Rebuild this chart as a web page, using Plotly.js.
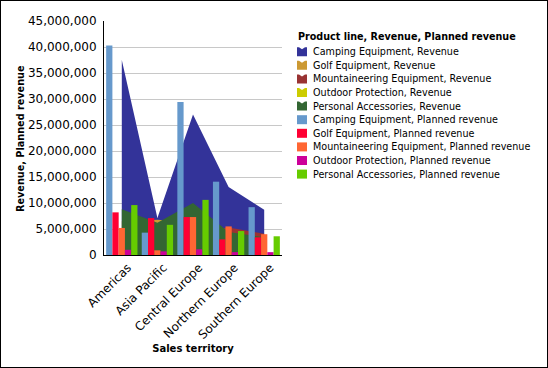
<!DOCTYPE html>
<html>
<head>
<meta charset="utf-8">
<script src="https://cdn.plot.ly/plotly-3.0.1.min.js"></script>
<style>
  html, body { margin: 0; padding: 0; background: #fff; }
  #wrap { position: relative; width: 548px; height: 368px; }
  #chart { position: absolute; left: 0; top: 0; width: 548px; height: 368px; }
  #frame { position: absolute; left: 0; top: 0; width: 546px; height: 366px; border: 1px solid #000; pointer-events: none; }
</style>
</head>
<body>
<div id="wrap"><div id="chart"></div><div id="frame"></div></div>
<script>
// ---- data ----
const territories = ['Americas', 'Asia Pacific', 'Central Europe', 'Northern Europe', 'Southern Europe'];
const productLines = ['Camping Equipment', 'Golf Equipment', 'Mountaineering Equipment', 'Outdoor Protection', 'Personal Accessories'];

// Revenue (drawn as overlapping areas)
const revCamping        = [37500000, 7100000, 27000000, 13100000, 8700000];
const revGolf           = [6500000, 6800000, 6300000, 3000000, 3000000];
const revMountaineering = [3500000, 1500000, 4500000, 5300000, 4100000];
const revOutdoor        = [600000, 400000, 700000, 300000, 300000];
const revPersonal       = [8800000, 6200000, 10000000, 4400000, 3400000];

// Planned revenue (grouped bars)
const planCamping        = [40300000, 4300000, 29400000, 14100000, 9200000];
const planGolf           = [8200000, 7100000, 7300000, 3000000, 3400000];
const planMountaineering = [5200000, 900000, 7300000, 5500000, 4000000];
const planOutdoor        = [1000000, 700000, 1100000, 550000, 550000];
const planPersonal       = [9600000, 5800000, 10600000, 4600000, 3600000];

const yTickVals = [0, 5000000, 10000000, 15000000, 20000000, 25000000, 30000000, 35000000, 40000000, 45000000];

const revColors  = ['#333399', '#CC9933', '#993333', '#CCCC00', '#336633'];
const planColors = ['#6699CC', '#FF0033', '#FF6633', '#CC0099', '#66CC00'];

const revSeries  = [revCamping, revGolf, revMountaineering, revOutdoor, revPersonal];
const planSeries = [planCamping, planGolf, planMountaineering, planOutdoor, planPersonal];

const FONT = 'DejaVu Sans, Verdana, sans-serif';

const traces = [];
revSeries.forEach((vals, i) => {
  traces.push({
    type: 'scatter', mode: 'lines', x: territories, y: vals,
    name: productLines[i] + ', Revenue',
    fill: 'tozeroy', fillcolor: revColors[i],
    line: { width: 0, color: revColors[i] },
    xaxis: 'x', yaxis: 'y', showlegend: false
  });
});
planSeries.forEach((vals, i) => {
  traces.push({
    type: 'bar', x: territories, y: vals,
    name: productLines[i] + ', Planned revenue',
    marker: { color: planColors[i], line: { width: 0 } },
    xaxis: 'x', yaxis: 'y2', showlegend: false
  });
});

// ---- custom legend (pixel layout converted to paper coords) ----
const L = 104, R = 282, T = 21, B = 255;
const px = v => (v - L) / (R - L);
const py = v => (B - v) / (B - T);

const annotations = [{
  text: '<b>Product line, Revenue, Planned revenue</b>',
  xref: 'paper', yref: 'paper', x: px(296), y: py(37),
  xanchor: 'left', yanchor: 'middle', showarrow: false,
  font: { family: FONT, size: 9.6, color: '#000' }
}, {
  text: '<b>Revenue, Planned revenue</b>',
  xref: 'paper', yref: 'paper', x: px(20), y: py(139), textangle: -90,
  xanchor: 'center', yanchor: 'middle', showarrow: false,
  font: { family: FONT, size: 9.7, color: '#000' }
}];
const shapes = [];
const legendNames = productLines.map(p => p + ', Revenue').concat(productLines.map(p => p + ', Planned revenue'));
const legendColors = revColors.concat(planColors);
legendNames.forEach((nm, i) => {
  const cy = 51.7 + 13.6 * i;
  annotations.push({
    text: nm, xref: 'paper', yref: 'paper', x: px(311), y: py(cy),
    xanchor: 'left', yanchor: 'middle', showarrow: false,
    font: { family: FONT, size: 9.6, color: '#000' }
  });
  const x0 = px(297), x1 = px(307), y0 = py(cy + 4.5), y1 = py(cy - 4.5);
  if (i < 5) {
    const xm = px(302), yn = py(cy - 2.5), xa = px(299), xb = px(305);
    shapes.push({
      type: 'path', xref: 'paper', yref: 'paper',
      path: `M ${x0} ${y0} L ${x0} ${y1} L ${xa} ${y1} L ${xm} ${yn} L ${xb} ${y1} L ${x1} ${y1} L ${x1} ${y0} Z`,
      fillcolor: legendColors[i], line: { width: 0 }
    });
  } else {
    shapes.push({
      type: 'rect', xref: 'paper', yref: 'paper', x0: x0, x1: x1, y0: y0, y1: y1,
      fillcolor: legendColors[i], line: { width: 0 }
    });
  }
});

const layout = {
  width: 548, height: 368,
  margin: { l: L, r: 548 - R, t: T, b: 368 - B, pad: 0 },
  paper_bgcolor: '#fff', plot_bgcolor: '#fff',
  font: { family: FONT, size: 12, color: '#000' },
  showlegend: false,
  barmode: 'group', bargap: 0.12, bargroupgap: 0,
  xaxis: {
    type: 'category', range: [-0.5, 4.5], tickangle: -45,
    showline: true, linecolor: '#000', linewidth: 1,
    showgrid: false, ticks: '', zeroline: false, ticklabelshift: 6,
    tickfont: { family: FONT, size: 12, color: '#000' },
    title: { text: '<b>Sales territory</b>', font: { family: FONT, size: 10, color: '#000' }, standoff: 4 }
  },
  yaxis: {
    range: [0, 45000000], tickvals: yTickVals, tickformat: ',d',
    showline: true, linecolor: '#000', linewidth: 1,
    showgrid: true, gridcolor: '#C8C8C8', gridwidth: 1, zeroline: false,
    ticks: '', ticklabelstandoff: 4,
    tickfont: { family: FONT, size: 12, color: '#000' }
  },
  yaxis2: {
    range: [0, 45000000], overlaying: 'y', visible: false, showgrid: false, zeroline: false
  },
  annotations: annotations,
  shapes: shapes
};

Plotly.newPlot('chart', traces, layout, { staticPlot: true, displayModeBar: false });
</script>
</body>
</html>
